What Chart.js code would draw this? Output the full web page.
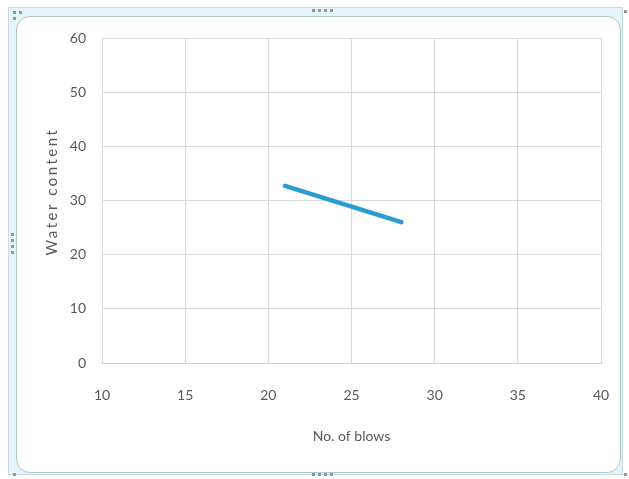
<!DOCTYPE html>
<html>
<head>
<meta charset="utf-8">
<script src="https://cdn.jsdelivr.net/npm/chart.js@4/dist/chart.umd.min.js"></script>
<style>
  html,body{margin:0;padding:0;background:#fff;}
  #wrap{position:relative;width:629px;height:479px;overflow:hidden;}
  #outer{position:absolute;left:8px;top:7px;width:615px;height:468px;background:#e6f3f7;border:1px solid #c3dde5;box-sizing:border-box;}
  #inner{position:absolute;left:16px;top:16px;width:605px;height:457px;background:#fff;border:1px solid #b3c6cb;border-radius:14px;box-sizing:border-box;}
  .dot{position:absolute;width:3px;height:3px;background:#8a9aa0;}
  canvas{position:absolute;left:0;top:0;}
</style>
</head>
<body>
<div id="wrap">
  <div id="outer"></div>
  <div id="inner"></div>
  <div id="dots"></div>
  <canvas id="c" width="629" height="479"></canvas>
</div>
<script>
const blows = [21, 28];
const waterContent = [32.7, 26.0];
const xTicks = [10, 15, 20, 25, 30, 35, 40];
const yTicks = [0, 10, 20, 30, 40, 50, 60];
const xTitle = 'No. of blows';
const yTitle = 'Water content';

// frame handles
const dotPos = [[13,11],[19,11],[13,17],[312,9],[318,9],[324,9],[330,9],[312,473],[318,473],[324,473],[330,473],[11,233],[11,239],[11,245],[11,251],[624,10],[13,473],[624,473]];
const dots = document.getElementById('dots');
dotPos.forEach(p=>{const d=document.createElement('div');d.className='dot';d.style.left=p[0]+'px';d.style.top=p[1]+'px';dots.appendChild(d);});

const pts = blows.map((x,i)=>({x:x, y:waterContent[i]}));
const font = {family:'Lato, "Open Sans", sans-serif', size:14};
const grey = '#595959';

const spacingPlugin = {
  id:'yTitleSpacing',
  afterUpdate(chart){
    const s = chart.scales.y;
    if (s && !s._wrapped){
      const orig = s.drawTitle;
      s.drawTitle = function(...a){ this.ctx.save(); this.ctx.translate(0,-9); this.ctx.letterSpacing='2.5px'; orig.apply(this,a); this.ctx.restore(); };
      s._wrapped = true;
    }
  }
};

new Chart(document.getElementById('c'), {
  type:'scatter',
  data:{datasets:[{
    data:pts, showLine:true, borderColor:'#2a9bd3', backgroundColor:'#2a9bd3',
    borderWidth:4.5, pointRadius:0, borderCapStyle:'round', tension:0
  }]},
  options:{
    responsive:false, animation:false, devicePixelRatio:1,
    layout:{padding:{left:0,right:28,top:38,bottom:0}},
    plugins:{legend:{display:false}, tooltip:{enabled:false}},
    scales:{
      x:{type:'linear', min:10, max:40,
        afterBuildTicks(s){ s.ticks = xTicks.map(v=>({value:v})); },
        afterFit(s){ s.height = 116; s.paddingRight = 0; s.paddingLeft = 0; },
        grid:{color:'#d9d9d9', drawTicks:false},
        border:{color:'#d0d0d0'},
        ticks:{color:grey, font:font, padding:24, maxRotation:0},
        title:{display:true, text:xTitle, color:grey, font:font, padding:{top:0,bottom:34}}
      },
      y:{type:'linear', min:0, max:60,
        afterBuildTicks(s){ s.ticks = yTicks.map(v=>({value:v})); },
        afterFit(s){ s.width = 102; s.paddingTop = 0; s.paddingBottom = 0; },
        grid:{color:'#d9d9d9', drawTicks:false},
        border:{color:'#d9d9d9'},
        ticks:{color:grey, font:font, padding:16},
        title:{display:true, text:yTitle, color:grey, font:{family:font.family, size:15}, padding:{top:43,bottom:0}}
      }
    }
  },
  plugins:[spacingPlugin]
});
</script>
</body>
</html>
